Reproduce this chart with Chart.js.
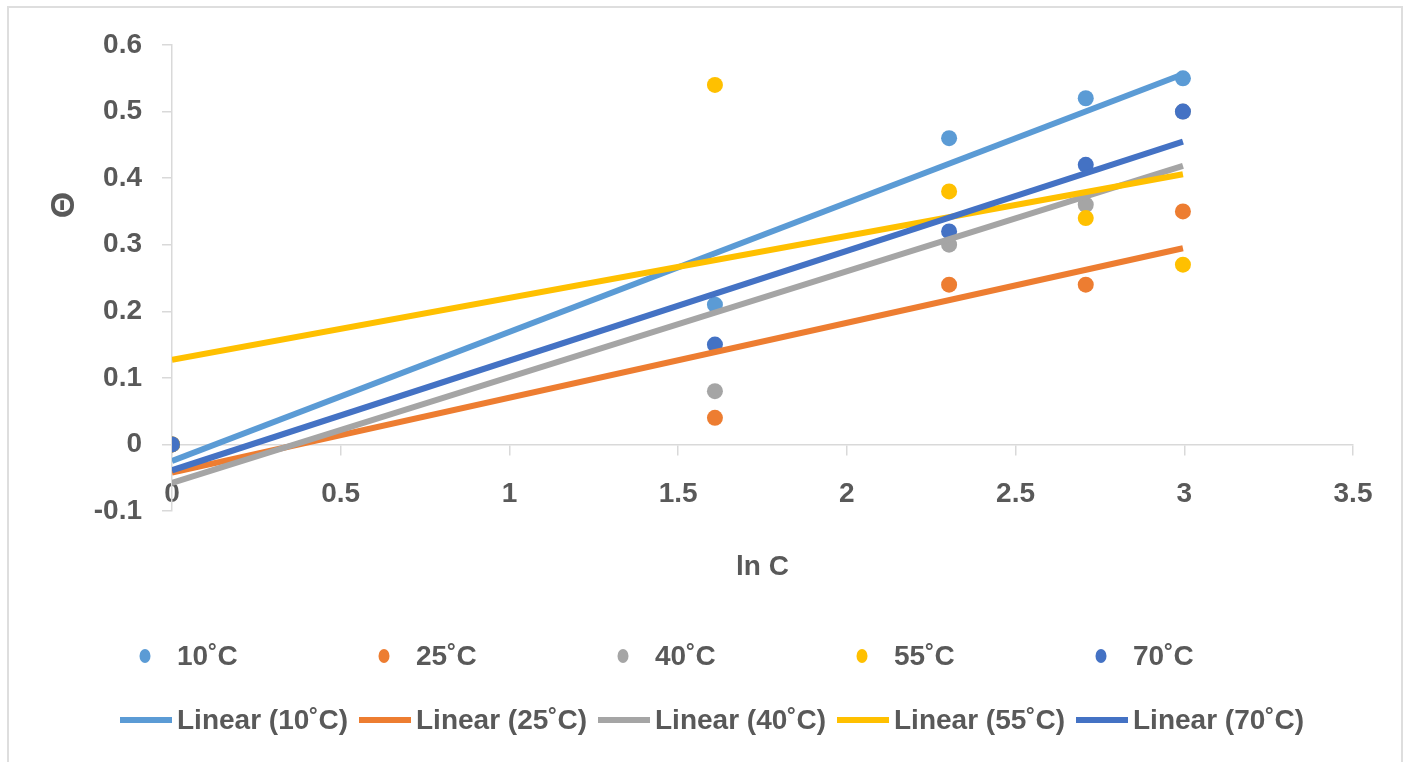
<!DOCTYPE html>
<html>
<head>
<meta charset="utf-8">
<script src="https://cdn.jsdelivr.net/npm/chart.js@4"></script>
<style>
  body { margin: 0; background: #fff; }
  #wrap { position: relative; width: 1412px; height: 762px; overflow: hidden; }
  #frame { position: absolute; left: 7px; top: 6px; width: 1396px; height: 800px; border: 2px solid #dedede; box-sizing: border-box; }
  canvas { position: absolute; left: 0; top: 0; }
</style>
</head>
<body>
<div id="wrap">
  <div id="frame"></div>
  <canvas id="scatter-chart" width="1412" height="762"></canvas>
</div>
<script>
// ln C values (ln 1, ln 5, ln 10, ln 15, ln 20)
const lnC = [0, 1.609, 2.303, 2.708, 2.996];

const theta10 = [0, 0.21, 0.46, 0.52, 0.55];
const theta25 = [0, 0.04, 0.24, 0.24, 0.35];
const theta40 = [0, 0.08, 0.30, 0.36, 0.50];
const theta55 = [0, 0.54, 0.38, 0.34, 0.27];
const theta70 = [0, 0.15, 0.32, 0.42, 0.50];

const seriesNames = ["10˚C", "25˚C", "40˚C", "55˚C", "70˚C"];
const seriesColors = ["#5B9BD5", "#ED7D31", "#A5A5A5", "#FFC000", "#4472C4"];
const allSeries = [theta10, theta25, theta40, theta55, theta70];

const xTicks = {min: 0, max: 3.5, step: 0.5};
const yTicks = {min: -0.1, max: 0.6, step: 0.1};

const FONT = "'Liberation Sans', Arial, sans-serif";
const TEXT = "#595959";

// least squares fit, like Excel's linear trendline
function linearFit(xs, ys) {
    const n = xs.length;
    const mx = xs.reduce((a, b) => a + b, 0) / n;
    const my = ys.reduce((a, b) => a + b, 0) / n;
    let sxy = 0, sxx = 0;
    for (let i = 0; i < n; i++) {
        sxy += (xs[i] - mx) * (ys[i] - my);
        sxx += (xs[i] - mx) * (xs[i] - mx);
    }
    const slope = sxy / sxx;
    return {slope: slope, intercept: my - slope * mx};
}

// 0.5 -> "0.5", 1.0 -> "1", -0.0 -> "0"
function tickLabel(v) {
    const r = Math.round(v * 10) / 10;
    return (r === 0 ? 0 : r).toString();
}

const xStart = Math.min(...lnC);
const xEnd = Math.max(...lnC);

const pointSets = allSeries.map((ys, i) => ({
    type: 'scatter',
    label: seriesNames[i],
    data: lnC.map((x, j) => ({x: x, y: ys[j]})),
    backgroundColor: seriesColors[i],
    borderWidth: 0,
    pointRadius: 8,
    pointHoverRadius: 8,
    order: 20 - i
}));

const trendSets = allSeries.map((ys, i) => {
    const fit = linearFit(lnC, ys);
    return {
        type: 'line',
        label: "Linear (" + seriesNames[i] + ")",
        data: [xStart, xEnd].map(x => ({x: x, y: fit.intercept + fit.slope * x})),
        borderColor: seriesColors[i],
        borderWidth: 6,
        pointRadius: 0,
        fill: false,
        order: 10 - i
    };
});

// two row legend with equal columns, Excel style, plus the y title
const legendPlugin = {
    id: 'excelLegend',
    afterDraw(chart) {
        const ctx = chart.ctx;
        const colW = 239, x0 = 120;
        ctx.save();
        ctx.font = "bold 28px " + FONT;
        ctx.textBaseline = 'middle';
        pointSets.forEach((ds, i) => {
            const x = x0 + i * colW;
            const y = 656;
            ctx.fillStyle = ds.backgroundColor;
            ctx.beginPath();
            ctx.ellipse(x + 25, y, 5.5, 7, 0, 0, Math.PI * 2);
            ctx.fill();
            ctx.fillStyle = TEXT;
            ctx.fillText(ds.label, x + 57, y + 1);
        });
        trendSets.forEach((ds, i) => {
            const x = x0 + i * colW;
            const y = 720;
            ctx.fillStyle = ds.borderColor;
            ctx.fillRect(x, y - 3, 52, 6);
            ctx.fillStyle = TEXT;
            ctx.fillText(ds.label, x + 57, y + 1);
        });

        ctx.translate(64, 205);
        ctx.rotate(-Math.PI / 2);
        ctx.textAlign = 'center';
        ctx.font = "bold 34px " + FONT;
        ctx.fillStyle = TEXT;
        ctx.fillText("Θ", 0, 1);
        ctx.restore();
    }
};

new Chart(document.getElementById("scatter-chart"), {
    type: 'scatter',
    data: {
        datasets: trendSets.concat(pointSets)
    },
    plugins: [legendPlugin],
    options: {
        responsive: false,
        animation: false,
        layout: {
            padding: {left: 0, top: 45, right: 59, bottom: 251}
        },
        plugins: {
            legend: {display: false},
            tooltip: {enabled: false}
        },
        scales: {
            x: {
                type: 'linear',
                position: {y: 0},
                min: xTicks.min,
                max: xTicks.max,
                ticks: {
                    stepSize: xTicks.step,
                    padding: 23,
                    color: TEXT,
                    font: {family: FONT, size: 28, weight: 'bold'},
                    callback: tickLabel
                },
                grid: {
                    drawOnChartArea: false,
                    tickLength: 10,
                    color: "#d9d9d9",
                    lineWidth: 1.5
                },
                border: {color: "#d9d9d9", width: 1.5},
                title: {
                    display: true,
                    text: "ln C",
                    color: TEXT,
                    padding: {top: 16, bottom: 0},
                    font: {family: FONT, size: 28, weight: 'bold'}
                }
            },
            y: {
                type: 'linear',
                min: yTicks.min,
                max: yTicks.max,
                afterFit(scale) { scale.width = 172; },
                ticks: {
                    stepSize: yTicks.step,
                    padding: 20,
                    color: TEXT,
                    font: {family: FONT, size: 28, weight: 'bold'},
                    callback: tickLabel
                },
                grid: {
                    drawOnChartArea: false,
                    tickLength: 10,
                    color: "#d9d9d9",
                    lineWidth: 1.5
                },
                border: {color: "#d9d9d9", width: 1.5}
            }
        }
    }
});
</script>
</body>
</html>
